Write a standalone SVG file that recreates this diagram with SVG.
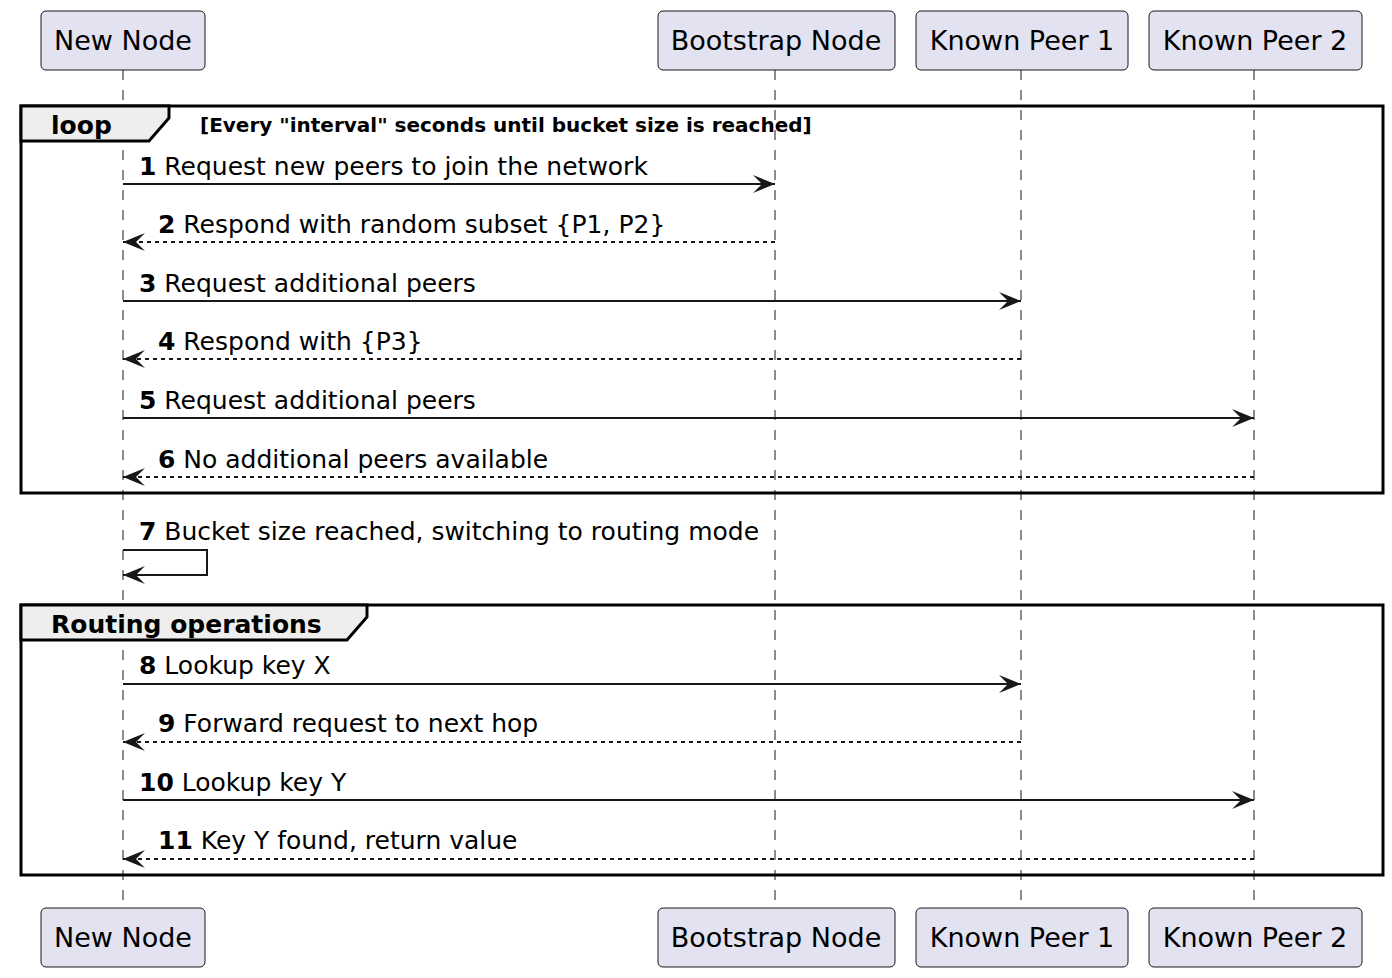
<svg xmlns="http://www.w3.org/2000/svg" width="1392" height="978" viewBox="0 0 1392 978">
<style>
.box{fill:#E2E2F0;stroke:#181818;stroke-width:1}
.pt{font-family:"DejaVu Sans",sans-serif;font-size:27px;fill:#000}
.life{stroke:#181818;stroke-width:1;stroke-dasharray:10,10}
.msg{stroke:#181818;stroke-width:2;fill:none}
.dash{stroke-dasharray:4,4}
.mt{font-family:"DejaVu Sans",sans-serif;font-size:25px;fill:#000}
.num{font-weight:bold}
.frame{fill:none;stroke:#000;stroke-width:3}
.tab{fill:#EEEEEE;stroke:#000;stroke-width:3}
.ft{font-family:"DejaVu Sans",sans-serif;font-size:25px;font-weight:bold;fill:#000}
.cond{font-family:"DejaVu Sans",sans-serif;font-size:20px;font-weight:bold;fill:#000}
</style>
<defs>
<marker id="arr" viewBox="0 0 22 18" refX="22" refY="9" markerWidth="22" markerHeight="18" markerUnits="userSpaceOnUse" orient="auto">
<path d="M0,0 L22,9 L0,18 L9,9 Z" fill="#181818"/>
</marker>
</defs>
<g id="lifelines">
<line class="life" x1="123" y1="70" x2="123" y2="908"/>
<line class="life" x1="775" y1="70" x2="775" y2="908"/>
<line class="life" x1="1021" y1="70" x2="1021" y2="908"/>
<line class="life" x1="1254" y1="70" x2="1254" y2="908"/>
</g>
<g id="frame-loop">
<rect class="frame" x="21" y="106" width="1362" height="387"/>
<path class="tab" d="M21,106 H169 V118 L149,141 H21 Z"/>
<text class="ft" x="51" y="134">loop</text>
<text class="cond" x="200" y="132">[Every "interval" seconds until bucket size is reached]</text>
</g>
<g id="frame-routing">
<rect class="frame" x="21" y="605" width="1362" height="270"/>
<path class="tab" d="M21,605 H367 V617 L347,640 H21 Z"/>
<text class="ft" x="51" y="633">Routing operations</text>
</g>
<g id="p-newnode-top"><rect class="box" x="41" y="11" width="164" height="59" rx="5"/><text class="pt" x="123" y="50" text-anchor="middle">New Node</text></g>
<g id="p-bootstrap-top"><rect class="box" x="658" y="11" width="237" height="59" rx="5"/><text class="pt" x="776" y="50" text-anchor="middle">Bootstrap Node</text></g>
<g id="p-peer1-top"><rect class="box" x="916" y="11" width="212" height="59" rx="5"/><text class="pt" x="1022" y="50" text-anchor="middle">Known Peer 1</text></g>
<g id="p-peer2-top"><rect class="box" x="1149" y="11" width="213" height="59" rx="5"/><text class="pt" x="1255" y="50" text-anchor="middle">Known Peer 2</text></g>
<g id="p-newnode-bottom"><rect class="box" x="41" y="908" width="164" height="59" rx="5"/><text class="pt" x="123" y="947" text-anchor="middle">New Node</text></g>
<g id="p-bootstrap-bottom"><rect class="box" x="658" y="908" width="237" height="59" rx="5"/><text class="pt" x="776" y="947" text-anchor="middle">Bootstrap Node</text></g>
<g id="p-peer1-bottom"><rect class="box" x="916" y="908" width="212" height="59" rx="5"/><text class="pt" x="1022" y="947" text-anchor="middle">Known Peer 1</text></g>
<g id="p-peer2-bottom"><rect class="box" x="1149" y="908" width="213" height="59" rx="5"/><text class="pt" x="1255" y="947" text-anchor="middle">Known Peer 2</text></g>
<g id="connectors">
<line class="msg" x1="123" y1="184" x2="775" y2="184" marker-end="url(#arr)"/>
<line class="msg dash" x1="775" y1="242" x2="123" y2="242" marker-end="url(#arr)"/>
<line class="msg" x1="123" y1="301" x2="1021" y2="301" marker-end="url(#arr)"/>
<line class="msg dash" x1="1021" y1="359" x2="123" y2="359" marker-end="url(#arr)"/>
<line class="msg" x1="123" y1="418" x2="1254" y2="418" marker-end="url(#arr)"/>
<line class="msg dash" x1="1254" y1="477" x2="123" y2="477" marker-end="url(#arr)"/>
<polyline class="msg" points="123,550 207,550 207,575 123,575" marker-end="url(#arr)"/>
<line class="msg" x1="123" y1="684" x2="1021" y2="684" marker-end="url(#arr)"/>
<line class="msg dash" x1="1021" y1="742" x2="123" y2="742" marker-end="url(#arr)"/>
<line class="msg" x1="123" y1="800" x2="1254" y2="800" marker-end="url(#arr)"/>
<line class="msg dash" x1="1254" y1="859" x2="123" y2="859" marker-end="url(#arr)"/>
</g>
<g id="labels">
<text class="mt" x="139" y="175"><tspan class="num">1</tspan> Request new peers to join the network</text>
<text class="mt" x="158" y="233"><tspan class="num">2</tspan> Respond with random subset {P1, P2}</text>
<text class="mt" x="139" y="292"><tspan class="num">3</tspan> Request additional peers</text>
<text class="mt" x="158" y="350"><tspan class="num">4</tspan> Respond with {P3}</text>
<text class="mt" x="139" y="409"><tspan class="num">5</tspan> Request additional peers</text>
<text class="mt" x="158" y="468"><tspan class="num">6</tspan> No additional peers available</text>
<text class="mt" x="139" y="540"><tspan class="num">7</tspan> Bucket size reached, switching to routing mode</text>
<text class="mt" x="139" y="674"><tspan class="num">8</tspan> Lookup key X</text>
<text class="mt" x="158" y="732"><tspan class="num">9</tspan> Forward request to next hop</text>
<text class="mt" x="139" y="791"><tspan class="num">10</tspan> Lookup key Y</text>
<text class="mt" x="158" y="849"><tspan class="num">11</tspan> Key Y found, return value</text>
</g>
</svg>
